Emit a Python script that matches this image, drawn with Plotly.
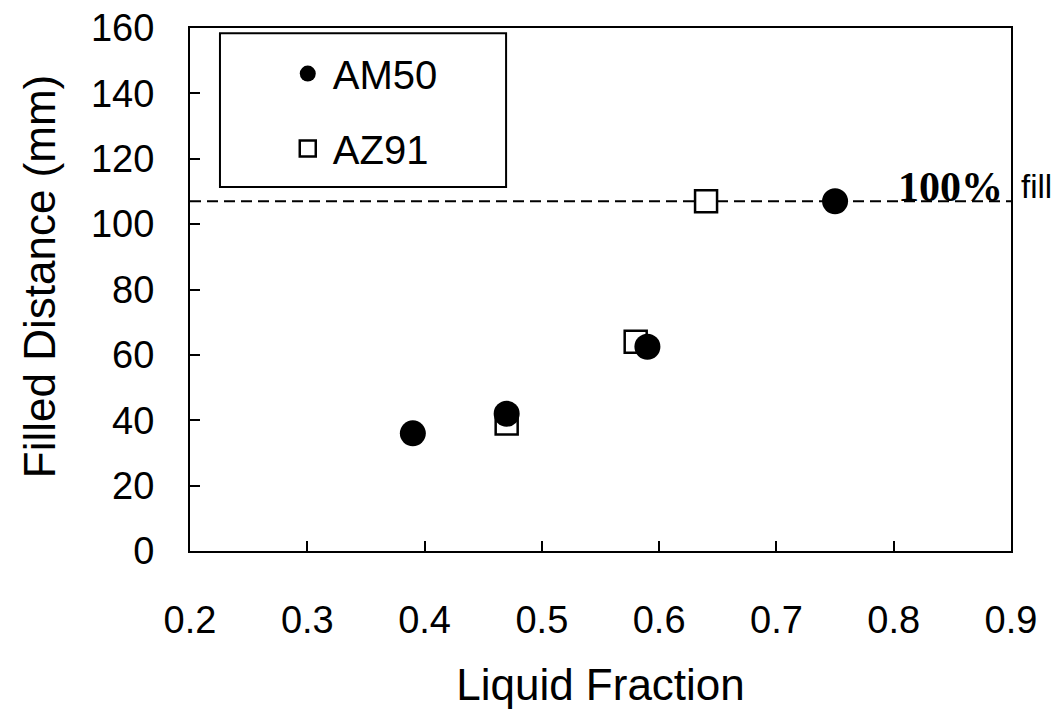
import plotly.graph_objects as go

# ---- data ----
am50_x = [0.39, 0.47, 0.59, 0.75]
am50_y = [36, 42, 62.5, 107]
az91_x = [0.47, 0.58, 0.64]
az91_y = [39, 64, 107]
full_fill_y = 107
x_range = [0.2, 0.9]
y_range = [0, 160]
x_ticks = [0.2, 0.3, 0.4, 0.5, 0.6, 0.7, 0.8, 0.9]
y_ticks = [0, 20, 40, 60, 80, 100, 120, 140, 160]

FONT = "Liberation Sans, Arial, sans-serif"

fig = go.Figure()
fig.add_trace(go.Scatter(
    x=az91_x, y=az91_y, mode="markers", name="AZ91",
    legendgroup="b", legendrank=2,
    marker=dict(symbol="square", size=22, color="white",
                line=dict(color="black", width=2.5)),
))
fig.add_trace(go.Scatter(
    x=am50_x, y=am50_y, mode="markers", name="AM50",
    legendgroup="a", legendrank=1,
    marker=dict(symbol="circle", size=26, color="black",
                line=dict(color="black", width=0)),
))

# dashed 100% fill line
fig.add_shape(type="line", xref="x", yref="y",
              x0=x_range[0], x1=x_range[1], y0=full_fill_y, y1=full_fill_y,
              line=dict(color="black", width=2.2, dash="11px,6px"), layer="below")

# legend frame
fig.add_shape(type="rect", xref="paper", yref="paper",
              x0=0.0365, x1=0.385, y0=0.696, y1=0.990,
              line=dict(color="black", width=2), fillcolor="rgba(0,0,0,0)")

fig.add_annotation(x=0.848, y=111.5, xref="x", yref="y", text="<b>100%</b>",
                   showarrow=False, xanchor="center", yanchor="middle",
                   font=dict(family="Liberation Serif, serif", size=42, color="black"))
fig.add_annotation(x=1.01, y=111.5, xref="paper", yref="y", text="fill",
                   showarrow=False, xanchor="left", yanchor="middle",
                   font=dict(family=FONT, size=33, color="black"))

# y-axis title placed as in the reference (slightly above the plot centre)
fig.add_annotation(x=-0.183, y=0.525, xref="paper", yref="paper",
                   text="Filled Distance (mm)", textangle=-90, showarrow=False,
                   xanchor="center", yanchor="middle",
                   font=dict(family=FONT, size=44, color="black"))

axis_common = dict(
    showline=True, linecolor="black", linewidth=2, mirror=True,
    ticks="inside", ticklen=10, tickwidth=2, tickcolor="black",
    showgrid=False, zeroline=False, ticklabeloverflow="allow",
    tickfont=dict(family=FONT, size=38, color="black"),
)

fig.update_xaxes(range=x_range, tickvals=x_ticks,
                 ticktext=[f"{v:.1f}" for v in x_ticks],
                 ticklabelstandoff=34,
                 title=dict(text="Liquid Fraction", standoff=30,
                            font=dict(family=FONT, size=44, color="black")),
                 **axis_common)
fig.update_yaxes(range=y_range, tickvals=y_ticks,
                 ticktext=[str(v) for v in y_ticks],
                 ticklabelstandoff=26,
                 **axis_common)

# page body adds an 8px offset, so the figure is 8px smaller on each side
fig.update_layout(
    width=1055, height=703,
    margin=dict(l=182, r=52, t=20, b=160, autoexpand=False),
    plot_bgcolor="white", paper_bgcolor="white",
    showlegend=True,
    legend=dict(x=0.113, y=0.975, xanchor="left", yanchor="top",
                bgcolor="rgba(0,0,0,0)", borderwidth=0,
                itemwidth=40, tracegroupgap=20,
                font=dict(family=FONT, size=40, color="black")),
)

fig.write_html("out.html")
